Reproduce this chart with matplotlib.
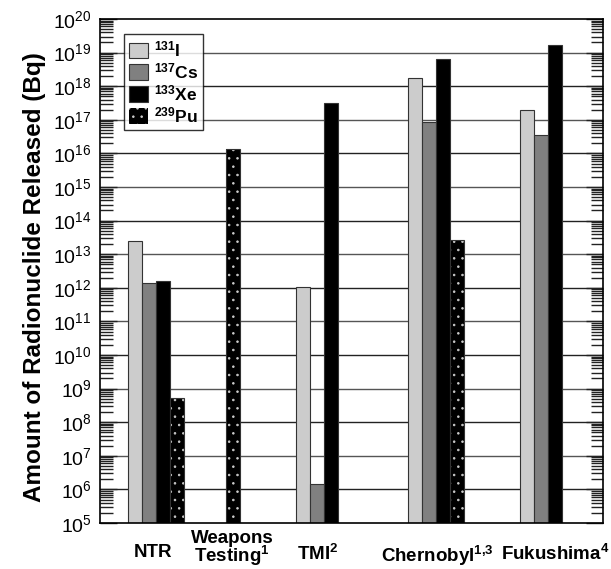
import matplotlib
matplotlib.use("Agg")
import matplotlib.pyplot as plt
import numpy as np
from matplotlib.ticker import LogLocator, LogFormatterMathtext, NullFormatter
from matplotlib.patches import Patch
from matplotlib.transforms import blended_transform_factory

plt.rcParams['font.family'] = ['Liberation Sans', 'DejaVu Sans']
plt.rcParams['mathtext.fontset'] = 'custom'
plt.rcParams['mathtext.rm'] = 'Liberation Sans'
plt.rcParams['mathtext.bf'] = 'Liberation Sans:bold'
plt.rcParams['mathtext.default'] = 'regular'
plt.rcParams['hatch.linewidth'] = 0.6

# Data
categories = ["NTR", "Weapons\nTesting$^{\\mathbf{1}}$", "TMI$^{\\mathbf{2}}$",
              "Chernobyl$^{\\mathbf{1{,}3}}$", "Fukushima$^{\\mathbf{4}}$"]
group_start = [2, 6, 14, 22, 30]
label_x = [3.75, 9.45, 15.5, 24.1, 32.5]
series = ["$^{\\mathbf{131}}\\mathbf{I}$", "$^{\\mathbf{137}}\\mathbf{Cs}$",
          "$^{\\mathbf{133}}\\mathbf{Xe}$", "$^{\\mathbf{239}}\\mathbf{Pu}$"]
I131 = [2.5e13, np.nan, 1.07e12, 1.7e18, 1.95e17]
Cs137 = [1.4e12, np.nan, 1.45e6, 8.5e16, 3.5e16]
Xe133 = [1.55e12, np.nan, 3.1e17, 6.5e18, 1.7e19]
Pu239 = [5.4e8, 1.35e16, np.nan, 2.6e13, np.nan]
values = [I131, Cs137, Xe133, Pu239]
colors = ['#cccccc', '#808080', '#000000', '#000000']

fig = plt.figure(figsize=(6.11, 5.69), dpi=100)
ax = fig.add_axes([100/611, 1-523/569, 503/611, 504/569])
ax.set_yscale('log')
ax.set_ylim(1e5, 1e20)
ax.set_xlim(0, 35.9)

# gridlines
for e in range(6, 20):
    ax.axhline(10.0**e, color='#222222' if e % 2 == 0 else '#555555', lw=1.0, zorder=1)

bottom = 1e5
for si, (vals, col) in enumerate(zip(values, colors)):
    for gi, v in enumerate(vals):
        if np.isnan(v):
            continue
        x = group_start[gi] + si
        if si == 3:
            ax.bar(x, v - bottom, bottom=bottom, width=1, align='edge', color='black',
                   edgecolor='#cccccc', linewidth=0, hatch='..', zorder=2)
            ax.bar(x, v - bottom, bottom=bottom, width=1, align='edge', fill=False,
                   edgecolor='#333333', linewidth=0.8, zorder=3)
        else:
            ax.bar(x, v - bottom, bottom=bottom, width=1, align='edge', color=col,
                   edgecolor='#333333', linewidth=0.8, zorder=2)

ax.yaxis.set_major_locator(LogLocator(base=10, numticks=20))
ax.yaxis.set_major_formatter(LogFormatterMathtext())
ax.yaxis.set_minor_locator(LogLocator(base=10, subs=np.arange(2, 10), numticks=20))
ax.yaxis.set_minor_formatter(NullFormatter())
ax.tick_params(axis='y', which='both', direction='in', left=True, right=True,
               labelsize=14, color='#222222')
ax.tick_params(axis='y', which='major', length=12, width=1, pad=6)
ax.tick_params(axis='y', which='minor', length=9, width=1)

# category labels (two-line label anchored to the figure bottom so it stays inside)
ax.set_xticks(label_x)
ax.set_xticklabels([c if "\n" not in c else "" for c in categories],
                   fontweight='bold', fontsize=13.5)
ax.tick_params(axis='x', length=0, pad=15)
trans = blended_transform_factory(ax.transData, fig.transFigure)
for c, lx in zip(categories, label_x):
    if "\n" in c:
        ax.text(lx, 1.5 / 569, c, transform=trans, ha='center', va='bottom',
                multialignment='center', fontweight='bold', fontsize=13.5,
                linespacing=0.8, clip_on=False)

for sp in ax.spines.values():
    sp.set_linewidth(1.2)
    sp.set_color('black')
    sp.set_zorder(5)

ax.set_ylabel('Amount of Radionuclide Released (Bq)', fontweight='bold', fontsize=17.5)
ax.yaxis.set_label_coords(-(100 - 46) / 503, 0.488)

handles = [Patch(facecolor=colors[0], edgecolor='#333333', linewidth=0.8),
           Patch(facecolor=colors[1], edgecolor='#333333', linewidth=0.8),
           Patch(facecolor=colors[2], edgecolor='#333333', linewidth=0.8),
           Patch(facecolor='black', edgecolor='#cccccc', linewidth=0, hatch='..')]
leg = ax.legend(handles, series, loc='upper left', bbox_to_anchor=(0.048, 0.97),
                fontsize=12.5, frameon=True, fancybox=False, handlelength=1.05,
                handleheight=1.0, labelspacing=0.12, handletextpad=0.35,
                borderpad=0.3, borderaxespad=0)
leg.get_frame().set_edgecolor('black')
leg.get_frame().set_linewidth(1.0)
leg.set_zorder(6)

fig.savefig('out.png', dpi=100)
